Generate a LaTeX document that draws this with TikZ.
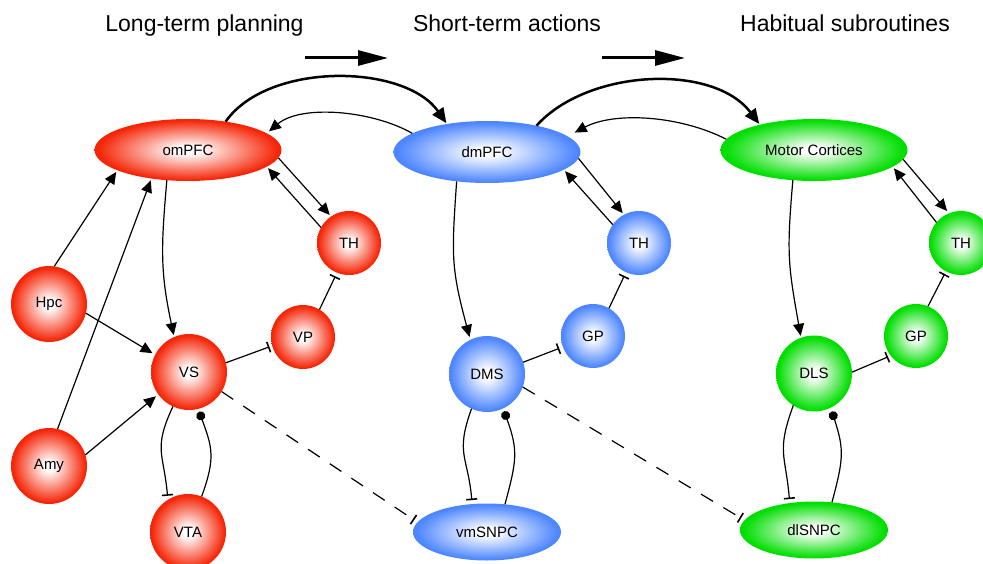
\documentclass[tikz,border=0pt]{standalone}
\usepackage{fontspec}
\setmainfont{Liberation Sans}
\usetikzlibrary{arrows.meta,shapes.geometric}
\definecolor{cred}{RGB}{245,38,8}
\definecolor{cblue}{RGB}{77,134,255}
\definecolor{cgreen}{RGB}{0,222,0}
\pgfdeclareradialshading{redball}{\pgfpoint{0bp}{0bp}}{color(0bp)=(white); color(3bp)=(white); color(24bp)=(cred); color(25bp)=(cred); color(50bp)=(cred)}
\pgfdeclareradialshading{blueball}{\pgfpoint{0bp}{0bp}}{color(0bp)=(white); color(3bp)=(white); color(24bp)=(cblue); color(25bp)=(cblue); color(50bp)=(cblue)}
\pgfdeclareradialshading{greenball}{\pgfpoint{0bp}{0bp}}{color(0bp)=(white); color(3bp)=(white); color(24bp)=(cgreen); color(25bp)=(cgreen); color(50bp)=(cgreen)}
\begin{document}
\begin{tikzpicture}[x=1pt,y=1pt,
  lbl/.style={font=\fontsize{15}{18}\selectfont, text=black},
  bigball/.style={lbl, circle, inner sep=0pt, outer sep=0pt, minimum size=76pt},
  smallball/.style={lbl, circle, inner sep=0pt, outer sep=0pt, minimum size=64pt},
  bigell/.style={lbl, ellipse, inner sep=0pt, outer sep=0pt, minimum width=187pt, minimum height=62pt},
  smallell/.style={lbl, ellipse, inner sep=0pt, outer sep=0pt, minimum width=148pt, minimum height=57pt},
  title/.style={font=\fontsize{23}{27}\selectfont, anchor=base, inner sep=0pt},
  bigarrow/.style={line width=3pt, -{Triangle[length=30pt,width=15pt]}},
  exc/.style={line width=1.2pt, -{Triangle[length=12pt,width=11pt]}, shorten >=2pt},
  thickexc/.style={line width=2.5pt, -{Triangle[length=15pt,width=13pt]}, shorten >=1pt},
  inh/.style={line width=1.2pt, -{Bar[width=11pt,line width=1.6pt]}, shorten >=4pt},
  modu/.style={line width=1.2pt, -{Circle[length=9pt]}, shorten >=3pt},
  dashinh/.style={inh, dash pattern=on 14pt off 12pt}
]
\useasboundingbox (0,0) rectangle (983,-564);

% titles
\node[title] (t1) at (204.5,-32) {Long-term planning};
\node[title] (t2) at (507,-32) {Short-term actions};
\node[title] (t3) at (845,-32) {Habitual subroutines};
\coordinate (a1s) at (305,-58);
\coordinate (a1e) at (388,-58);
\coordinate (a2s) at (602,-58);
\coordinate (a2e) at (685,-58);
\draw[bigarrow] (a1s) -- (a1e);
\draw[bigarrow] (a2s) -- (a2e);

% red nodes
\node[bigell, shading=redball] (omPFC) at (188,-150) {omPFC};
\node[smallball, shading=redball] (THr) at (349,-243) {TH};
\node[smallball, shading=redball] (VP) at (303,-337) {VP};
\node[bigball, shading=redball] (Hpc) at (49,-304) {Hpc};
\node[bigball, shading=redball] (VS) at (189,-372) {VS};
\node[bigball, shading=redball] (Amy) at (49,-466) {Amy};
\node[bigball, shading=redball] (VTA) at (188,-532) {VTA};

% blue nodes
\node[bigell, shading=blueball] (dmPFC) at (487,-152) {dmPFC};
\node[smallball, shading=blueball] (THb) at (639,-243) {TH};
\node[smallball, shading=blueball] (GPb) at (593,-336) {GP};
\node[bigball, shading=blueball] (DMS) at (487,-374) {DMS};
\node[smallell, shading=blueball] (vmSNPC) at (487,-532) {vmSNPC};

% green nodes
\node[bigell, shading=greenball] (MC) at (814,-150) {Motor Cortices};
\node[smallball, shading=greenball] (THg) at (961,-243) {TH};
\node[smallball, shading=greenball] (GPg) at (916,-336) {GP};
\node[bigball, shading=greenball] (DLS) at (814,-373.5) {DLS};
\node[smallell, shading=greenball] (dlSNPC) at (814,-530) {dlSNPC};

% red connectors
\draw[thickexc] (omPFC.37) to[out=55,in=125,looseness=.85] (dmPFC.145);
\draw[exc, shorten >=3pt] (dmPFC.166) to[out=150,in=40,looseness=.8] (omPFC.12);
\draw[exc] (omPFC.-5) -- (THr.124);
\draw[exc] (THr.151) -- (omPFC.-12);
\draw[inh] (VP.59) -- (THr.-112);
\draw[exc] (Hpc.82) -- (omPFC.196);
\draw[exc] (Amy.77) -- (omPFC.218);
\draw[exc] (omPFC.235) to[out=265,in=102,looseness=1.1] (VS.113);
\draw[exc, shorten >=3pt] (Hpc.-14) -- (VS.153);
\draw[exc, shorten >=3pt] (Amy.17) -- (VS.216);
\draw[inh, shorten >=3pt] (VS.14) -- (VP.196);
\draw[inh] (VS.245) to[out=245,in=95,looseness=1.3] (VTA.122);
\draw[modu] (VTA.69) to[out=70,in=-70,looseness=1.2] (VS.-76);
\draw[dashinh] (VS.-31) -- (vmSNPC.172);

% blue connectors
\draw[thickexc] (dmPFC.28) to[out=48,in=127,looseness=.88] (MC.155);
\draw[exc, shorten >=8pt] (MC.173) to[out=153,in=28,looseness=.85] (dmPFC.11);
\draw[exc] (dmPFC.-4) -- (THb.118);
\draw[exc] (THb.145) -- (dmPFC.-13);
\draw[inh] (GPb.60) -- (THb.-114);
\draw[exc, shorten >=3pt] (dmPFC.224) to[out=266,in=105,looseness=1.2] (DMS.116);
\draw[inh] (DMS.18) -- (GPb.200);
\draw[inh] (DMS.246) to[out=250,in=95,looseness=1.3] (vmSNPC.118);
\draw[modu] (vmSNPC.57) to[out=75,in=-70,looseness=1.2] (DMS.-65);
\draw[dashinh] (DMS.-20) -- (dlSNPC.172);

% green connectors
\draw[exc, shorten >=3pt] (MC.-6) -- (THg.112);
\draw[exc] (THg.140) -- (MC.-12);
\draw[inh, shorten >=3pt] (GPg.68) -- (THg.-118);
\draw[exc] (MC.235) to[out=265,in=100,looseness=1.2] (DLS.110);
\draw[inh, shorten >=3pt] (DLS.2) -- (GPg.218);
\draw[inh] (DLS.237) to[out=250,in=95,looseness=1.3] (dlSNPC.132);
\draw[modu, shorten >=4pt] (dlSNPC.57) to[out=75,in=-72,looseness=1.2] (DLS.-64);
\end{tikzpicture}
\end{document}
